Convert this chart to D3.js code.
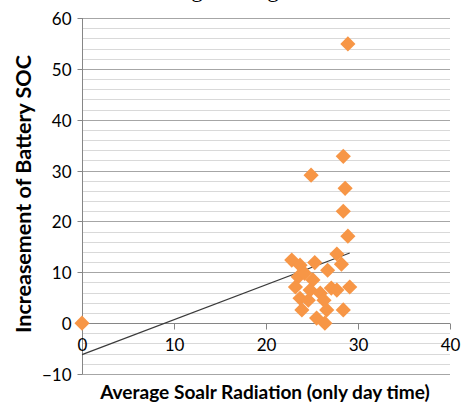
<!DOCTYPE html>
<html><head><meta charset="utf-8">
<script src="https://cdn.jsdelivr.net/npm/d3@7"></script>
<style>html,body{margin:0;padding:0;background:#fff;}svg{display:block;}</style>
</head><body>
<svg id="chart" width="462" height="406"></svg>
<script>
// ---- data ----
const solarRadiation = [0, 28.9, 24.9, 28.4, 28.6, 28.4, 28.9, 22.8, 23.7, 25.3, 27.7, 28.2, 26.7, 23.5, 24.2, 25.1, 23.2, 24.8, 25.9, 27.1, 27.7, 29.1, 23.7, 24.6, 23.9, 25.5, 26.4, 26.6, 28.4, 26.3];
const socIncrease    = [0, 54.9, 29.1, 32.8, 26.5, 22.0, 17.1, 12.4, 11.4, 11.9, 13.6, 11.6, 10.4, 9.1, 9.8, 8.5, 7.1, 6.5, 5.9, 6.9, 6.5, 7.1, 4.9, 4.5, 2.6, 1.0, 0.0, 2.6, 2.6, 4.5];
const trendX = [0, 29.1];
const trendY = [-6.2, 13.8];
const xTicks = [0, 10, 20, 30, 40];
const yTicks = [-10, 0, 10, 20, 30, 40, 50, 60];
const yMinorTicks = d3.range(-10, 61, 2);
const chartTitle = "Average Sunlight";
const xTitle = "Average Soalr Radiation (only day time)";
const yTitle = "Increasement of Battery SOC";

// ---- layout ----
const svg = d3.select("#chart");
const plotLeft = 82, plotRight = 450, plotTop = 18, plotBottom = 374;
const x = d3.scaleLinear().domain([0, 40]).range([plotLeft, plotRight]);
const y = d3.scaleLinear().domain([-10, 60]).range([plotBottom, plotTop]);
const font = "Lato, 'Open Sans', sans-serif";

// title (cut off at top, as in the reference)
const t = svg.append("text").text(chartTitle)
  .attr("font-family", "'Liberation Serif', serif").attr("font-size", 23)
  .attr("y", -3).attr("x", 0).attr("fill", "#000");
try {
  const p = t.node().getStartPositionOfChar(5).x;
  const e = t.node().getExtentOfChar(5);
  t.attr("x", 197 - (p + e.width / 2));
} catch (err) { t.attr("x", 135); }

// minor gridlines
svg.append("g").selectAll("line").data(yMinorTicks.filter(v => v % 10 !== 0)).join("line")
  .attr("x1", plotLeft).attr("x2", plotRight)
  .attr("y1", d => Math.round(y(d)) + 0.5).attr("y2", d => Math.round(y(d)) + 0.5)
  .attr("stroke", "#d9d9d9").attr("stroke-width", 1);
// major gridlines
svg.append("g").selectAll("line").data(yTicks).join("line")
  .attr("x1", plotLeft).attr("x2", plotRight)
  .attr("y1", d => Math.round(y(d)) + 0.5).attr("y2", d => Math.round(y(d)) + 0.5)
  .attr("stroke", "#a6a6a6").attr("stroke-width", 1);

// y axis
const yAxis = svg.append("g").attr("transform", `translate(${plotLeft + 0.5},0)`)
  .call(d3.axisLeft(y).tickValues(yTicks).tickSize(5).tickPadding(6).tickFormat(d3.format("d")));
yAxis.select(".domain").attr("stroke", "#868686").attr("d", `M0,${y(60)}V${y(-10)}`);
yAxis.selectAll(".tick line").attr("stroke", "#868686");
yAxis.selectAll(".tick text").attr("font-family", font).attr("font-size", 17).attr("fill", "#000")
  .attr("dy", "0.36em");
yAxis.selectAll(".tick").attr("transform", d => `translate(0,${Math.round(y(d)) + 0.5})`);

// x axis at y=0
const xAxis = svg.append("g").attr("transform", `translate(0,${Math.round(y(0)) + 0.5})`)
  .call(d3.axisBottom(x).tickValues(xTicks).tickSize(6).tickPadding(9).tickFormat(d3.format("d")));
xAxis.select(".domain").attr("stroke", "#868686").attr("d", `M${plotLeft},0H${plotRight}`);
xAxis.selectAll(".tick line").attr("stroke", "#868686");
xAxis.selectAll(".tick text").attr("font-family", font).attr("font-size", 17).attr("fill", "#000");

// trend line
svg.append("path")
  .datum(trendX.map((v, i) => [v, trendY[i]]))
  .attr("d", d3.line().x(d => x(d[0])).y(d => y(d[1])))
  .attr("fill", "none").attr("stroke", "#3a3a3a").attr("stroke-width", 1.2);

// points (diamonds)
const sym = d3.symbol().type(d3.symbolSquare).size(115);
svg.append("g").selectAll("path").data(solarRadiation.map((v, i) => [v, socIncrease[i]])).join("path")
  .attr("d", sym)
  .attr("transform", d => `translate(${x(d[0])},${y(d[1])}) rotate(45)`)
  .attr("fill", "#f79646");

// axis titles
function fit(sel, w) {
  const n = sel.node(); const len = n.getComputedTextLength();
  const fs = parseFloat(sel.attr("font-size"));
  if (len > 0) sel.attr("font-size", fs * w / len);
}
const xt = svg.append("text").text(xTitle).attr("x", 265).attr("y", 399)
  .attr("text-anchor", "middle").attr("font-family", font).attr("font-weight", "bold")
  .attr("font-size", 18).attr("fill", "#000");
fit(xt, 330);
const yt = svg.append("text").text(yTitle)
  .attr("transform", "translate(31,194) rotate(-90)")
  .attr("text-anchor", "middle").attr("font-family", font).attr("font-weight", "bold")
  .attr("font-size", 18).attr("fill", "#000");
fit(yt, 278);
</script>
</body></html>
